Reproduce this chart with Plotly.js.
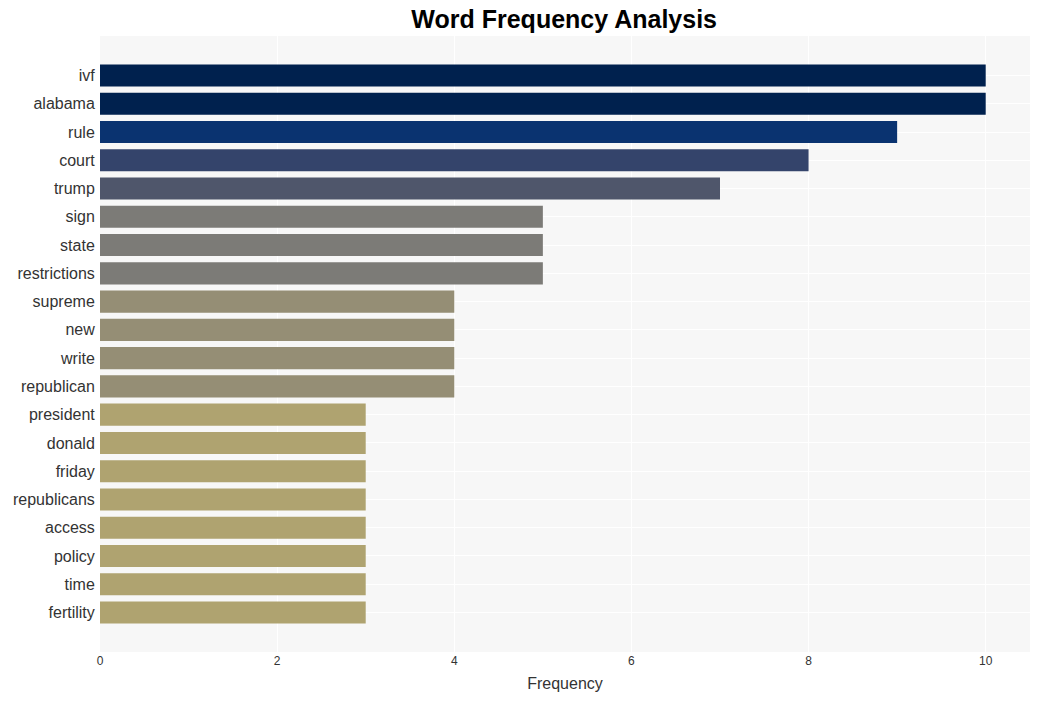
<!DOCTYPE html>
<html>
<head>
<meta charset="utf-8">
<script src="https://cdn.plot.ly/plotly-3.0.1.min.js"></script>
<style>html,body{margin:0;padding:0;background:#fff;}#chart{width:1039px;height:701px;}</style>
</head>
<body>
<div id="chart"></div>
<script>
const words = ["ivf","alabama","rule","court","trump","sign","state","restrictions","supreme","new","write","republican","president","donald","friday","republicans","access","policy","time","fertility"];
const frequencies = [10,10,9,8,7,5,5,5,4,4,4,4,3,3,3,3,3,3,3,3];
const barColors = ["#00214e","#00214e","#0a3370","#34446b","#4f566b","#7c7b77","#7c7b77","#7c7b77","#958e75","#958e75","#958e75","#958e75","#afa370","#afa370","#afa370","#afa370","#afa370","#afa370","#afa370","#afa370"];
const xTicks = [0,2,4,6,8,10];

Plotly.newPlot("chart", [{
  type: "bar",
  orientation: "h",
  x: frequencies,
  y: words,
  width: 0.78,
  marker: {color: barColors},
  hoverinfo: "x+y"
}], {
  width: 1039, height: 701,
  margin: {l: 100, r: 9, t: 36, b: 49},
  paper_bgcolor: "#ffffff",
  plot_bgcolor: "#f7f7f7",
  font: {family: "Liberation Sans, Arial, sans-serif", color: "#333333"},
  title: {text: "<b>Word Frequency Analysis</b>", x: 0.543, xanchor: "center", y: 0.972, yanchor: "middle", font: {size: 25, color: "#000000"}},
  xaxis: {
    range: [0, 10.5], tickvals: xTicks, ticktext: xTicks.map(String),
    gridcolor: "#ffffff", gridwidth: 1, zeroline: false, showline: false,
    tickfont: {size: 12, color: "#333333"},
    title: {text: "Frequency", font: {size: 16, color: "#333333"}, standoff: 10}
  },
  yaxis: {
    type: "category", autorange: false, range: [20.4, -1.4],
    gridcolor: "#ffffff", gridwidth: 1, zeroline: false, showline: false,
    tickfont: {size: 16, color: "#333333"}, ticks: "outside", ticklen: 1, tickcolor: "rgba(0,0,0,0)"
  },
  showlegend: false
}, {displayModeBar: false});
</script>
</body>
</html>
